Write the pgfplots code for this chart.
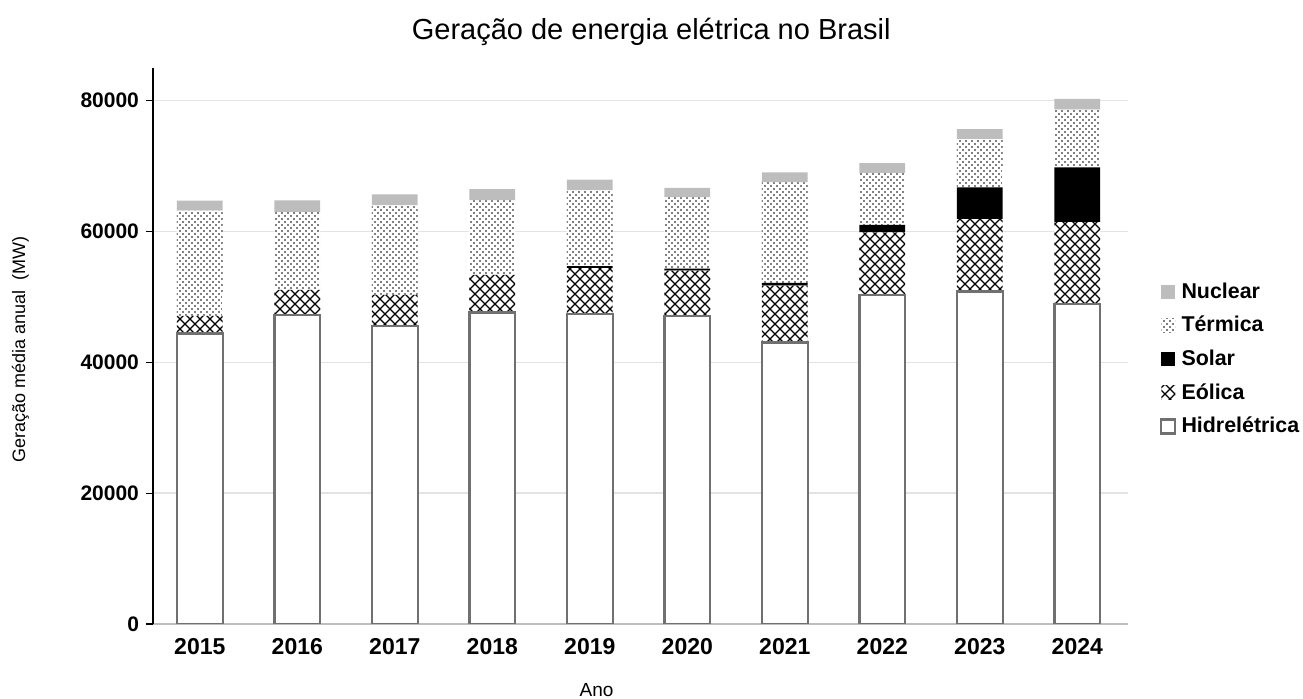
\documentclass[border=0pt]{standalone}
\usepackage{fontspec}
\setmainfont{Liberation Sans}
\usepackage{pgfplots}
\pgfplotsset{compat=1.18}
\usetikzlibrary{patterns}

\pgfdeclarepatternformonly{mydots}{\pgfqpoint{-0.5pt}{-0.5pt}}{\pgfqpoint{3.5pt}{3.5pt}}{\pgfqpoint{3pt}{3pt}}{%
  \pgfpathcircle{\pgfqpoint{0pt}{0pt}}{0.4pt}%
  \pgfpathcircle{\pgfqpoint{1.5pt}{1.5pt}}{0.4pt}%
  \pgfusepath{fill}}
\pgfdeclarepatternformonly{mymesh}{\pgfqpoint{-0.5pt}{-0.5pt}}{\pgfqpoint{5.5pt}{5.5pt}}{\pgfqpoint{5pt}{5pt}}{%
  \pgfsetlinewidth{0.55pt}%
  \pgfpathmoveto{\pgfqpoint{0pt}{0pt}}\pgfpathlineto{\pgfqpoint{5pt}{5pt}}%
  \pgfpathmoveto{\pgfqpoint{0pt}{5pt}}\pgfpathlineto{\pgfqpoint{5pt}{0pt}}%
  \pgfusepath{stroke}}

\definecolor{gridc}{HTML}{E3E3E3}
\definecolor{axisc}{HTML}{BDBDBD}
\definecolor{hydroc}{HTML}{707070}
\definecolor{nucc}{HTML}{BDBDBD}

\begin{document}
\begin{tikzpicture}
\useasboundingbox (-76.5pt,-37.5pt) rectangle (575pt,312pt);
\begin{axis}[
  at={(0,0)}, anchor=south west,
  scale only axis,
  width=487.5pt, height=278pt,
  ybar stacked,
  bar width=0.47,
  xmin=-0.48, xmax=9.52,
  ymin=0, ymax=85000,
  scaled y ticks=false,
  xtick={0,...,9},
  xticklabels={2015,2016,2017,2018,2019,2020,2021,2022,2023,2024},
  ytick={0,20000,40000,60000,80000},
  yticklabels={0,20000,40000,60000,80000},
  x tick style={draw=none},
  y tick style={black, line width=0.6pt},
  tick align=outside,
  major tick length=3.5pt,
  axis x line*=bottom,
  axis y line*=left,
  x axis line style={axisc, line width=0.8pt, -},
  y axis line style={black, line width=0.7pt, -},
  ymajorgrids,
  grid style={gridc, line width=0.7pt},
  xticklabel style={font=\fontsize{11.5}{13}\selectfont\bfseries},
  yticklabel style={font=\fontsize{10.5}{12}\selectfont\bfseries},
  title={Geração de energia elétrica no Brasil},
  title style={at={(axis description cs:0.511,1.0576)}, anchor=base, yshift=-8pt, font=\fontsize{14.5}{17}\selectfont},
  xlabel={Ano},
  xlabel style={at={(axis description cs:0.455,-0.119)}, anchor=center, font=\fontsize{9.5}{11}\selectfont},
  ylabel={Geração média anual\ \ (MW)},
  ylabel style={at={(axis description cs:-0.136,0.493)}, anchor=center, font=\fontsize{9}{11}\selectfont},
  legend image code/.code={\path[#1] (0pt,-3.5pt) rectangle (7pt,3.5pt);},
  reverse legend,
  legend cell align=left,
  legend style={draw=none, fill=none, at={(axis description cs:1.0325,0.62)}, anchor=north west,
    font=\fontsize{10.7}{12.5}\selectfont\bfseries, row sep=4.5pt, inner sep=0pt,
    nodes={inner sep=1.5pt}, /tikz/every odd column/.append style={column sep=1pt}},
]
% Hidrelétrica
\addplot[fill=white, draw=hydroc, line width=1.2pt] coordinates {
 (0,44400) (1,47270) (2,45580) (3,47620) (4,47420) (5,47110) (6,43030) (7,50320) (8,50830) (9,48900)};
% Eólica
\addplot[fill=white, draw=none, postaction={pattern=mymesh}] coordinates {
 (0,2700) (1,3820) (2,4740) (3,5760) (4,7000) (5,6900) (6,8700) (7,9540) (8,11070) (9,12540)};
% Solar
\addplot[fill=black, draw=none] coordinates {
 (0,0) (1,0) (2,0) (3,0) (4,300) (5,300) (6,400) (7,1170) (8,4840) (9,8360)};
% Térmica
\addplot[fill=white, draw=none, postaction={pattern=mydots}] coordinates {
 (0,16110) (1,11880) (2,13660) (3,11370) (4,11580) (5,10900) (6,15390) (7,7900) (8,7390) (9,8820)};
% Nuclear
\addplot[fill=nucc, draw=none] coordinates {
 (0,1530) (1,1780) (2,1690) (3,1740) (4,1640) (5,1480) (6,1510) (7,1540) (8,1540) (9,1640)};
\legend{Hidrelétrica,Eólica,Solar,Térmica,Nuclear}
\end{axis}
\end{tikzpicture}
\end{document}
